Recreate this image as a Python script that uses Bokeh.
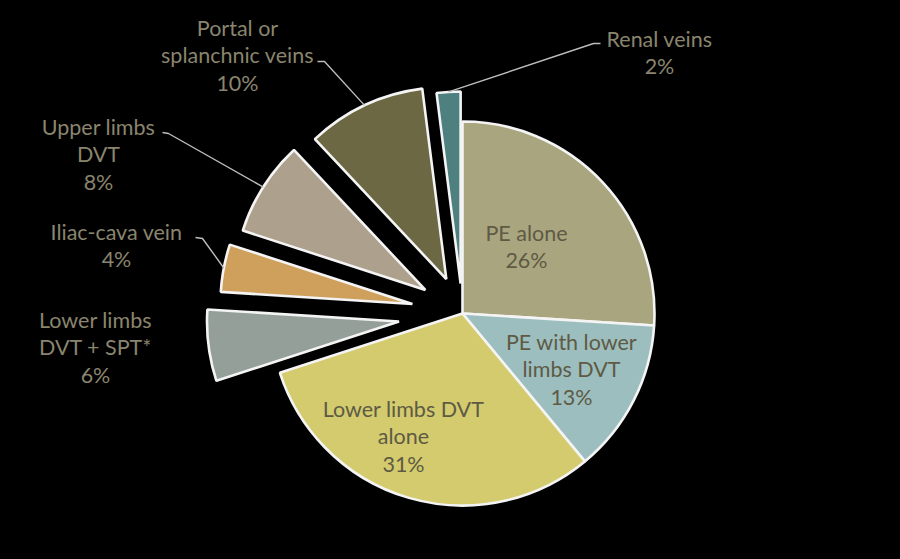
import math
from jinja2 import Template
from bokeh.plotting import figure
from bokeh.models import Range1d, ColumnDataSource
from bokeh.embed import file_html
from bokeh.resources import INLINE
from bokeh.core.properties import value

# ---- data ----
categories = ["PE alone", "PE with lower limbs DVT", "Lower limbs DVT alone",
              "Lower limbs DVT + SPT*", "Iliac-cava vein", "Upper limbs DVT",
              "Portal or splanchnic veins", "Renal veins"]
label_lines = [["PE alone"], ["PE with lower", "limbs DVT"], ["Lower limbs DVT", "alone"],
               ["Lower limbs", "DVT + SPT*"], ["Iliac-cava vein"], ["Upper limbs", "DVT"],
               ["Portal or", "splanchnic veins"], ["Renal veins"]]
values = [26, 13, 31, 6, 4, 8, 10, 2]

# ---- styles / layout ----
colors = ["#A9A57F", "#9CBEBF", "#D3CB6E", "#949F99", "#CEA05C", "#ADA08C", "#6C6844", "#4F8080"]
explode = [0, 0, 0, 64, 51, 44, 38, 30]          # px offset of exploded slices
inside = [True, True, True, False, False, False, False, False]
# label block centre relative to pie centre (px, x right / y down)
label_off = [(64, -67), (109, 56), (-59, 123), (-367, 34), (-346, -68), (-364, -159),
             (-225, -258), (197, -261)]
# leader knee points relative to pie centre (px, x right / y down): (start, knee)
leader = [None, None, None, None,
          ((-267, -76), (-260, -75)),
          ((-300, -181), (-294, -180)),
          ((-145, -252), (-138, -252)),
          ((138, -270), (131, -270))]

IMG_H = 559
CX, CY = 462, 313   # pie centre in page px
R = 192
W, H = 884, 543

def Y(img_y):
    return IMG_H - img_y

p = figure(width=W, height=H, x_range=Range1d(8, 8 + W), y_range=Range1d(IMG_H - 8 - H, IMG_H - 8),
           output_backend="svg", toolbar_location=None, min_border=0,
           background_fill_color="black", border_fill_color="black", outline_line_color=None)
p.axis.visible = False
p.grid.visible = False

total = sum(values)
xs, ys, sa, ea, mids = [], [], [], [], []
cum = 0
for v, d in zip(values, explode):
    a0 = cum / total
    a1 = (cum + v) / total
    cum += v
    start = math.pi / 2 - 2 * math.pi * a0
    end = math.pi / 2 - 2 * math.pi * a1
    mid = (start + end) / 2
    mids.append(mid)
    xs.append(CX + d * math.cos(mid))
    ys.append(Y(CY) + d * math.sin(mid))
    sa.append(start)
    ea.append(end)

src = ColumnDataSource(dict(x=xs, y=ys, sa=sa, ea=ea, color=colors, cat=categories))
p.wedge(x="x", y="y", radius=R, start_angle="sa", end_angle="ea", direction="clock",
        fill_color="color", line_color="#F4F4F4", line_width=2.6, source=src)

# leader lines
lx, ly = [], []
for i, ld in enumerate(leader):
    if ld is None:
        continue
    (sx, sy), (kx, ky) = ld
    ex = xs[i] + R * math.cos(mids[i])
    ey = ys[i] + R * math.sin(mids[i])
    lx.append([CX + sx, CX + kx, ex])
    ly.append([Y(CY + sy), Y(CY + ky), ey])
p.multi_line(lx, ly, line_color="#BDBDBD", line_width=1.4)

# labels
texts = []
for lines, v in zip(label_lines, values):
    texts.append("\n".join(lines + [f"{v}%"]))
tx = [CX + o[0] for o in label_off]
ty = [Y(CY + o[1]) for o in label_off]
tcol = ["#5E5A44" if ins else "#8A856E" for ins in inside]
p.text(x=tx, y=ty, text=texts, text_align="center", text_baseline="middle",
       text_font=value("Lato"), text_font_size="21.5px", text_color=tcol,
       text_line_height=1.06)

template = Template("""<!DOCTYPE html>
<html lang="en">
<head>
<meta charset="utf-8">
<title>{{ title }}</title>
{{ bokeh_css }}
{{ bokeh_js }}
<style>html, body { background: #000; }</style>
</head>
<body>
{{ plot_div }}
{{ plot_script }}
</body>
</html>""")

open("out.html", "w").write(file_html(p, INLINE, title="chart", template=template))
